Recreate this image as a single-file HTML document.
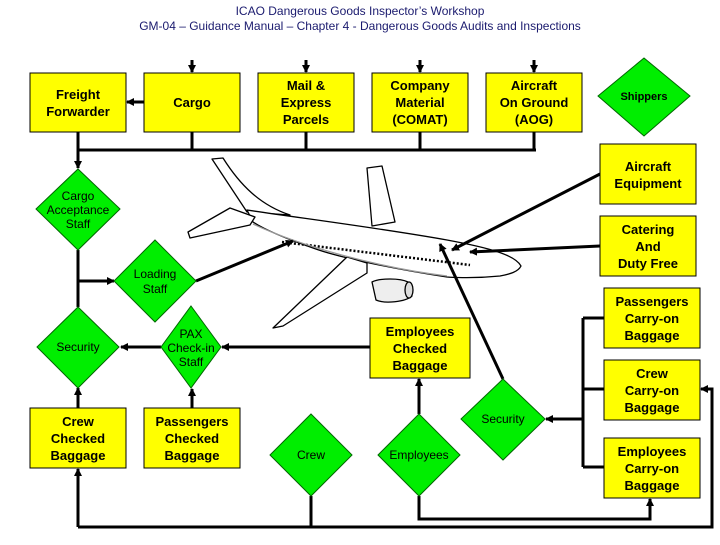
<!DOCTYPE html>
<html><head><meta charset="utf-8"><style>
html,body{margin:0;padding:0;background:#fff;}
body{width:720px;height:540px;position:relative;overflow:hidden;font-family:"Liberation Sans",Arial,sans-serif;}
</style></head><body>
<svg width="720" height="540" viewBox="0 0 720 540" xmlns="http://www.w3.org/2000/svg" font-family="Liberation Sans, Arial, sans-serif">
<defs>
<marker id="a" markerWidth="8" markerHeight="8" refX="7" refY="4" orient="auto" markerUnits="userSpaceOnUse"><path d="M0,0 L8,4 L0,8 z" fill="#000"/></marker>
</defs>
<text x="360" y="15" text-anchor="middle" font-size="12" fill="#1a1a6e">ICAO Dangerous Goods Inspector’s Workshop</text>
<text x="360" y="30" text-anchor="middle" font-size="12" fill="#1a1a6e">GM-04 – Guidance Manual – Chapter 4 - Dangerous Goods Audits and Inspections</text>

<!-- airplane -->
<g stroke="#000" stroke-width="1.3" fill="#fff" stroke-linejoin="round">
<path d="M367,168 L382,166 L395,222 L372,226 Z"/>
<path d="M212,159 L223,158 C240,185 260,205 290,215 L247,212 Z"/>
<path d="M247,210 C300,218 380,228 447,240 C490,248 515,255 521,266 C518,272 510,274 500,276 C470,279 447,277 447,277 C400,270 340,258 313,248 C290,240 265,230 253,222 Z"/>
<path d="M230,208 L255,217 L250,225 L190,238 L188,232 Z"/>
<path d="M347,257 L367,263 L367,273 L283,326 L273,328 Z"/>
<path d="M372,282 C380,278 400,278 408,282 L412,296 C405,302 385,304 376,300 Z" fill="#eee"/>
<ellipse cx="409" cy="290" rx="4" ry="8" fill="#ddd"/>
<path d="M282,242 L470,265" fill="none" stroke-dasharray="2,2" stroke-width="2.5"/>
<path d="M253,224 C300,246 380,268 447,276" fill="none" stroke="#999"/>
</g>

<g stroke="#000" stroke-width="3" fill="none">
<line x1="192" y1="60" x2="192" y2="72" marker-end="url(#a)"/>
<line x1="306" y1="60" x2="306" y2="72" marker-end="url(#a)"/>
<line x1="420" y1="60" x2="420" y2="72" marker-end="url(#a)"/>
<line x1="534" y1="60" x2="534" y2="72" marker-end="url(#a)"/>
<line x1="144" y1="102" x2="127" y2="102" marker-end="url(#a)"/>
<line x1="78" y1="150" x2="536" y2="150"/>
<line x1="192" y1="132" x2="192" y2="150"/>
<line x1="306" y1="132" x2="306" y2="150"/>
<line x1="420" y1="132" x2="420" y2="150"/>
<line x1="534" y1="132" x2="534" y2="150"/>
<line x1="78" y1="132" x2="78" y2="168" marker-end="url(#a)"/>
<line x1="78" y1="250" x2="78" y2="307"/>
<line x1="78" y1="281" x2="114" y2="281" marker-end="url(#a)"/>
<line x1="196" y1="281" x2="293" y2="241" marker-end="url(#a)"/>
<line x1="161" y1="347" x2="121" y2="347" marker-end="url(#a)"/>
<line x1="370" y1="347" x2="222" y2="347" marker-end="url(#a)"/>
<line x1="78" y1="408" x2="78" y2="388" marker-end="url(#a)"/>
<line x1="192" y1="408" x2="192" y2="389" marker-end="url(#a)"/>
<line x1="419" y1="414" x2="419" y2="379" marker-end="url(#a)"/>
<polyline points="419,496 419,519 650,519 650,499" marker-end="url(#a)"/>
<polyline points="78,527 78,469" marker-end="url(#a)"/>
<polyline points="78,527 712,527 712,389 701,389" marker-end="url(#a)"/>
<line x1="311" y1="496" x2="311" y2="527"/>
<line x1="503" y1="379" x2="440" y2="244" marker-end="url(#a)"/>
<line x1="583" y1="318" x2="583" y2="467"/>
<line x1="583" y1="318" x2="604" y2="318"/>
<line x1="583" y1="389" x2="604" y2="389"/>
<line x1="583" y1="467" x2="604" y2="467"/>
<line x1="583" y1="419" x2="546" y2="419" marker-end="url(#a)"/>
<line x1="600" y1="174" x2="452" y2="250" marker-end="url(#a)"/>
<line x1="600" y1="246" x2="470" y2="252" marker-end="url(#a)"/>
</g>

<g fill="#ffff00" stroke="#000" stroke-width="1">
<rect x="30" y="73" width="96" height="59"/>
<rect x="144" y="73" width="96" height="59"/>
<rect x="258" y="73" width="96" height="59"/>
<rect x="372" y="73" width="96" height="59"/>
<rect x="486" y="73" width="96" height="59"/>
<rect x="600" y="144" width="96" height="60"/>
<rect x="600" y="216" width="96" height="60"/>
<rect x="604" y="288" width="96" height="60"/>
<rect x="604" y="360" width="96" height="60"/>
<rect x="604" y="438" width="96" height="60"/>
<rect x="370" y="318" width="100" height="60"/>
<rect x="30" y="408" width="96" height="60"/>
<rect x="144" y="408" width="96" height="60"/>
</g>
<g fill="#00ee00" stroke="#006600" stroke-width="1">
<polygon points="644,58 690,96 644,136 598,96"/>
<polygon points="78,169 120,209 78,250 36,209"/>
<polygon points="155,240 196,281 155,322 114,281"/>
<polygon points="78,307 119,347 78,388 37,347"/>
<polygon points="191,306 221,347 191,388 161,347"/>
<polygon points="311,414 352,455 311,496 270,455"/>
<polygon points="419,414 460,455 419,496 378,455"/>
<polygon points="503,379 545,419 503,460 461,419"/>
</g>

<g font-size="13" font-weight="bold" text-anchor="middle" fill="#000">
<text x="78" y="99">Freight</text><text x="78" y="116">Forwarder</text>
<text x="192" y="107">Cargo</text>
<text x="306" y="90">Mail &amp;</text><text x="306" y="107">Express</text><text x="306" y="124">Parcels</text>
<text x="420" y="90">Company</text><text x="420" y="107">Material</text><text x="420" y="124">(COMAT)</text>
<text x="534" y="90">Aircraft</text><text x="534" y="107">On Ground</text><text x="534" y="124">(AOG)</text>
<text x="648" y="171">Aircraft</text><text x="648" y="188">Equipment</text>
<text x="648" y="234">Catering</text><text x="648" y="251">And</text><text x="648" y="268">Duty Free</text>
<text x="652" y="306">Passengers</text><text x="652" y="323">Carry-on</text><text x="652" y="340">Baggage</text>
<text x="652" y="378">Crew</text><text x="652" y="395">Carry-on</text><text x="652" y="412">Baggage</text>
<text x="652" y="456">Employees</text><text x="652" y="473">Carry-on</text><text x="652" y="490">Baggage</text>
<text x="420" y="336">Employees</text><text x="420" y="353">Checked</text><text x="420" y="370">Baggage</text>
<text x="78" y="426">Crew</text><text x="78" y="443">Checked</text><text x="78" y="460">Baggage</text>
<text x="192" y="426">Passengers</text><text x="192" y="443">Checked</text><text x="192" y="460">Baggage</text>
</g>
<g font-size="12" text-anchor="middle" fill="#000">
<text x="644" y="100" font-weight="bold" font-size="11">Shippers</text>
<text x="78" y="200">Cargo</text><text x="78" y="214">Acceptance</text><text x="78" y="228">Staff</text>
<text x="155" y="278">Loading</text><text x="155" y="293">Staff</text>
<text x="78" y="351">Security</text>
<text x="191" y="338">PAX</text><text x="191" y="352">Check-in</text><text x="191" y="366">Staff</text>
<text x="311" y="459">Crew</text>
<text x="419" y="459">Employees</text>
<text x="503" y="423">Security</text>
</g>
</svg>
</body></html>
